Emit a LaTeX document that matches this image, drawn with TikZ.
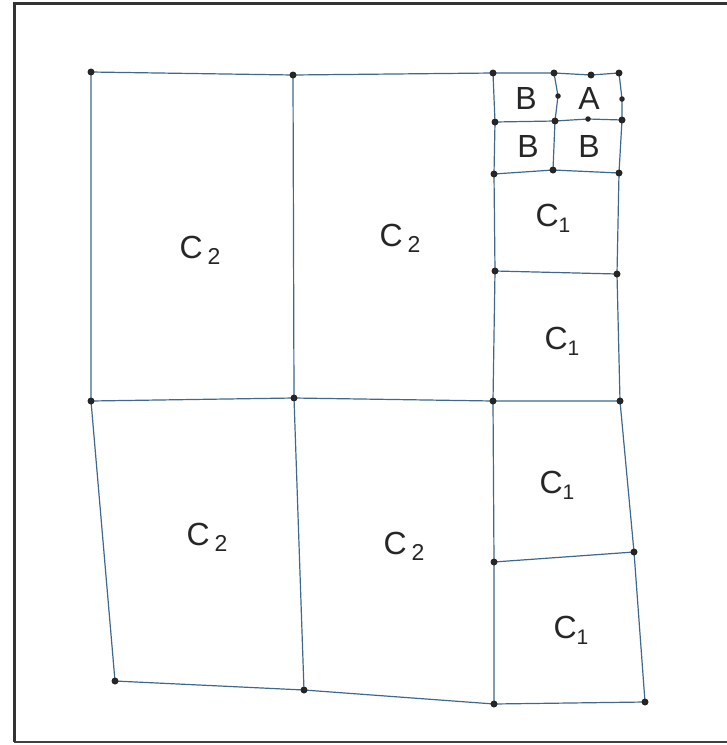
\documentclass[tikz,border=0pt]{standalone}
\usepackage{fontspec}
\setmainfont{Liberation Sans}
\definecolor{edgeblue}{RGB}{62,104,142}
\newcommand\lbsub[2]{\raisebox{-6pt}{\fontsize{#1}{#1}\selectfont #2}}
\begin{document}
\begin{tikzpicture}[x=1pt,y=-1pt,
  edge/.style={draw=edgeblue, line width=1.2pt},
  pt/.style={circle,fill=black!85,inner sep=0pt,minimum size=7pt},
  spt/.style={circle,fill=black!85,inner sep=0pt,minimum size=5.5pt},
  lbl/.style={font=\fontsize{32}{32}\selectfont, text=black!85}]
\useasboundingbox (0,0) rectangle (727,745);
% frame
\draw[black!80, line width=3pt] (727,3) -- (14,3) -- (14,742);
\draw[black!75, line width=2pt] (14,742) -- (727,742);
% vertices
\coordinate (a1) at (91,72);
\coordinate (a2) at (293,75);
\coordinate (a3) at (493,73);
\coordinate (a4) at (554,73);
\coordinate (a5) at (591,75);
\coordinate (a6) at (619,73);
\coordinate (m1) at (558,96);
\coordinate (m2) at (622,99);
\coordinate (b3) at (495,122);
\coordinate (b4) at (555,121);
\coordinate (b5) at (588,119);
\coordinate (b6) at (622,120);
\coordinate (c3) at (494,174);
\coordinate (c4) at (553,170);
\coordinate (c6) at (619,173);
\coordinate (d3) at (495,271);
\coordinate (d6) at (617,274);
\coordinate (e1) at (91,401);
\coordinate (e2) at (294,398);
\coordinate (e3) at (493,401);
\coordinate (e6) at (620,401);
\coordinate (f3) at (494,562);
\coordinate (f6) at (634,552);
\coordinate (g1) at (115,681);
\coordinate (g2) at (304,690);
\coordinate (g3) at (494,704);
\coordinate (g6) at (645,702);
% edges
\draw[edge] (a1) -- (a2) -- (a3) -- (a4) -- (a5) -- (a6);
\draw[edge] (e1) -- (e2) -- (e3) -- (e6);
\draw[edge] (g1) -- (g2) -- (g3) -- (g6);
\draw[edge] (a1) -- (e1) -- (g1);
\draw[edge] (a2) -- (e2) -- (g2);
\draw[edge] (a3) -- (b3) -- (c3) -- (d3) -- (e3) -- (f3) -- (g3);
\draw[edge] (a6) -- (m2) -- (b6) -- (c6) -- (d6) -- (e6) -- (f6) -- (g6);
\draw[edge] (b3) -- (b4) -- (b5) -- (b6);
\draw[edge] (c3) -- (c4) -- (c6);
\draw[edge] (a4) -- (m1) -- (b4) -- (c4);
\draw[edge] (d3) -- (d6);
\draw[edge] (f3) -- (f6);
% dots
\foreach \p in {a1,a2,a3,a4,a5,a6,b3,b4,b6,c3,c4,c6,d3,d6,e1,e2,e3,e6,f3,f6,g1,g2,g3,g6}
  \node[pt] at (\p) {};
\foreach \p in {m1,m2,b5}
  \node[spt] at (\p) {};
% labels
\node[lbl] (l1) at (200,250) {C\hspace{5pt}\lbsub{23}{2}};
\node[lbl] (l2) at (400,238) {C\hspace{5pt}\lbsub{23}{2}};
\node[lbl] (l3) at (207,537) {C\hspace{5pt}\lbsub{23}{2}};
\node[lbl] (l4) at (404,546) {C\hspace{5pt}\lbsub{23}{2}};
\node[lbl] (l5) at (553,218) {C\lbsub{21}{1}};
\node[lbl] (l6) at (562,341) {C\lbsub{21}{1}};
\node[lbl] (l7) at (557,485) {C\lbsub{21}{1}};
\node[lbl] (l8) at (571,630) {C\lbsub{21}{1}};
\node[lbl] (l9) at (526,98) {B};
\node[lbl] (l10) at (589,98) {A};
\node[lbl] (l11) at (528,146) {B};
\node[lbl] (l12) at (589,146) {B};
\end{tikzpicture}
\end{document}
